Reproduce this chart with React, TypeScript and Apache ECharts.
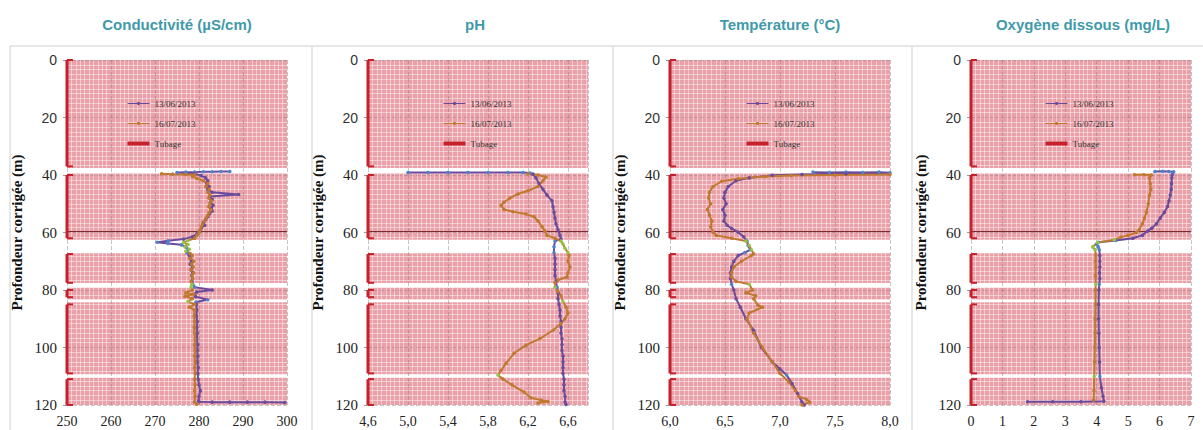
import React, { useEffect, useRef } from "react";
import * as echarts from "echarts";

// ---------- texts ----------
const panelTitles = ["Conductivité (µS/cm)", "pH", "Température (°C)", "Oxygène dissous (mg/L)"];
const seriesNames = ["13/06/2013", "16/07/2013"];
const casingName = "Tubage";
const depthAxisName = "Profondeur corrigée (m)";

// ---------- tick labels ----------
const depthTickLabels = ["0", "20", "40", "60", "80", "100", "120"];
const condTickLabels = ["250", "260", "270", "280", "290", "300"];
const phTickLabels = ["4,6", "5,0", "5,4", "5,8", "6,2", "6,6"];
const tempTickLabels = ["6,0", "6,5", "7,0", "7,5", "8,0"];
const oxyTickLabels = ["0", "1", "2", "3", "4", "5", "6", "7"];

// ---------- axis scales ----------
const axisMin = [250, 4.6, 6, 0];
const axisMax = [300, 6.8, 8, 7];
const axisStep = [10, 0.4, 0.5, 1];
const depthMin = 0;
const depthMax = 120;
const depthStep = 20;

// ---------- casing (tubage) & open zones, depths in m ----------
const casingIntervals = [[0, 37], [40, 62], [67.5, 77.5], [80, 82.5], [85, 109], [111, 120]];
const openZones = [[37.6, 39.5], [62.5, 67.2], [77.6, 79.2], [83.4, 84.3], [109.3, 110.5]];
const referenceDepth = [59.5];

// ---------- series: [value, depth] ----------
const cond1306 = [
  [287, 38.8], [285, 38.8], [283, 38.9], [281, 38.9], [279, 39.0], [277, 39.0], [275, 39.1], [277, 39.3],
  [279, 39.6], [280.5, 40.2], [281.5, 41], [282, 42], [281.8, 43], [282.3, 44], [282, 45], [283, 46],
  [289, 46.8], [282.5, 47.5], [283, 48.5], [282.6, 49.5], [283.2, 50.5], [282.8, 51.5], [283, 52.5],
  [282.4, 53.5], [282, 54.5], [281.5, 55.5], [281, 56.5], [281.3, 57.5], [280.5, 58.5], [280.2, 59.5],
  [279.5, 60.5], [278.5, 61.5], [276.5, 62.3], [273, 62.9], [270.5, 63.4], [273, 63.8], [276, 64.3],
  [277, 65], [277.5, 66], [277.2, 67], [277.8, 68], [278, 69], [278.3, 70], [278, 71], [278.5, 72],
  [278.2, 73], [278.6, 74], [278.3, 75], [278.5, 76], [278.4, 77], [278.6, 78], [279, 79], [283, 80],
  [279.5, 80.7], [279, 81.5], [279.2, 82.3], [282, 83.4], [279.3, 84.2], [279.4, 85], [279.5, 87],
  [279.4, 89], [279.6, 91], [279.5, 93], [279.6, 95], [279.5, 97], [279.7, 99], [279.6, 101], [279.7, 103],
  [279.6, 105], [279.8, 107], [279.7, 109], [279.8, 111], [280, 113], [280.3, 115], [280, 117],
  [279.9, 118.5], [280, 118.9], [283, 119.0], [287, 119.0], [291, 119.0], [295, 119.0], [299.5, 119.1],
];
const cond1607 = [
  [271.5, 39.6], [274, 39.7], [277, 39.8], [279, 39.9], [278.5, 40.5], [279.5, 41.2], [281, 42], [282, 43],
  [281.5, 44], [282.3, 45], [282, 46], [282.5, 47], [282.2, 48], [282.8, 49], [282.5, 50], [282.2, 51],
  [282.7, 52], [282.3, 53], [282, 54], [281.6, 55], [281.2, 56], [280.8, 57], [280.5, 58], [280.3, 59],
  [280, 60], [279.5, 61], [279, 62], [277.5, 62.8], [276.5, 63.5], [277.5, 64.2], [276.8, 65], [277.8, 65.8],
  [277, 66.5], [278, 67.3], [278.5, 68], [278, 69], [278.8, 70], [278.3, 71], [278.7, 72], [278.2, 73],
  [278.8, 74], [278.4, 75], [278.6, 76], [278.2, 77], [278.4, 78], [278.2, 79], [278.5, 80], [277, 81],
  [278.8, 81.5], [276.8, 82.2], [278.5, 83], [277.5, 84], [279, 85], [277.8, 86], [279, 87], [278.9, 89],
  [279, 91], [278.9, 93], [279, 95], [279.1, 97], [279, 99], [279.1, 101], [279, 103], [279.1, 105],
  [279, 107], [279.1, 109], [279, 111], [279.1, 113], [279, 115], [279.1, 117], [279, 119], [279.5, 119.7],
];
const ph1306 = [
  [5.0, 39.1], [5.2, 39.1], [5.4, 39.1], [5.6, 39.1], [5.8, 39.1], [6.0, 39.1], [6.15, 39.15], [6.22, 39.3],
  [6.25, 39.7], [6.28, 41], [6.31, 43], [6.35, 45], [6.39, 47], [6.44, 49], [6.45, 51], [6.46, 53],
  [6.47, 55], [6.48, 57], [6.5, 59], [6.52, 61], [6.53, 62.3], [6.47, 63], [6.46, 65], [6.46, 67],
  [6.47, 69], [6.47, 71], [6.47, 73], [6.47, 75], [6.48, 77], [6.49, 79], [6.5, 81], [6.5, 83], [6.51, 85],
  [6.52, 87], [6.52, 89], [6.53, 91], [6.53, 93], [6.53, 95], [6.54, 97], [6.54, 99], [6.54, 101],
  [6.55, 103], [6.55, 105], [6.55, 107], [6.55, 109], [6.56, 111], [6.56, 113], [6.56, 115], [6.57, 117],
  [6.57, 119], [6.58, 119.8],
];
const ph1607 = [
  [6.2, 39.6], [6.3, 40.0], [6.38, 40.7], [6.35, 42], [6.3, 44], [6.2, 45.5], [6.1, 46.6], [6.02, 48],
  [5.96, 49.5], [5.93, 50.6], [5.96, 52], [6.05, 52.8], [6.18, 53.6], [6.26, 54.5], [6.3, 56], [6.34, 58],
  [6.37, 59.5], [6.39, 61], [6.47, 62], [6.53, 63], [6.55, 64], [6.57, 65.5], [6.6, 67], [6.61, 68],
  [6.6, 70], [6.62, 72], [6.6, 74], [6.59, 75.5], [6.5, 76.5], [6.47, 77.5], [6.47, 79], [6.5, 80.5],
  [6.53, 82], [6.55, 84], [6.58, 86], [6.6, 88], [6.57, 90], [6.53, 91.7], [6.45, 94], [6.32, 96.9],
  [6.18, 99.2], [6.06, 102], [5.98, 105.5], [5.93, 108], [5.9, 109.6], [5.95, 111], [6.04, 113],
  [6.16, 115.5], [6.23, 117.5], [6.33, 118.3], [6.4, 118.8], [6.3, 119.3],
];
const temp1306 = [
  [7.3, 39.0], [7.45, 39.1], [7.6, 39.0], [7.75, 39.1], [7.9, 39.0], [8.0, 39.2], [7.6, 39.6], [7.2, 39.8],
  [6.93, 40.1], [6.72, 41], [6.6, 42], [6.53, 44], [6.5, 46], [6.49, 48], [6.51, 50], [6.48, 52], [6.5, 54],
  [6.49, 56], [6.52, 57.5], [6.56, 58.6], [6.62, 59.9], [6.67, 61.5], [6.7, 63], [6.71, 64.5], [6.73, 66],
  [6.68, 67], [6.62, 68], [6.58, 70], [6.56, 72], [6.55, 74], [6.55, 76], [6.56, 78], [6.58, 80],
  [6.6, 83], [6.64, 86], [6.69, 90], [6.76, 94], [6.83, 100], [6.93, 105], [7.0, 107.5], [7.06, 109.6],
  [7.11, 112.5], [7.16, 116], [7.2, 119], [7.22, 120],
];
const temp1607 = [
  [8.0, 39.8], [7.5, 40.0], [7.1, 40.2], [6.87, 40.5], [6.62, 41.3], [6.47, 42.2], [6.39, 44], [6.36, 46],
  [6.35, 48], [6.37, 50], [6.34, 52], [6.36, 54], [6.38, 56], [6.37, 58], [6.39, 59.9], [6.42, 61],
  [6.56, 62], [6.69, 63], [6.72, 64.5], [6.74, 66], [6.76, 67.4], [6.74, 68], [6.65, 70], [6.58, 72],
  [6.56, 74], [6.56, 75.5], [6.6, 77], [6.72, 78], [6.75, 80], [6.69, 81], [6.78, 82], [6.76, 83],
  [6.8, 85.3], [6.84, 86], [6.72, 88], [6.7, 90], [6.76, 95], [6.84, 100], [6.93, 105], [7.0, 109],
  [7.08, 112], [7.14, 115], [7.17, 117], [7.24, 118], [7.27, 119], [7.2, 120],
];
const oxy1306 = [
  [5.85, 38.8], [6.1, 38.7], [6.3, 38.8], [6.45, 38.9], [6.42, 39.3], [6.4, 40], [6.39, 41], [6.38, 43],
  [6.37, 45], [6.34, 47], [6.3, 49], [6.25, 51], [6.15, 53], [6.02, 55], [5.9, 57], [5.75, 58.5],
  [5.62, 59.5], [5.45, 61], [5.15, 62], [4.6, 62.8], [4.05, 63.4], [4.0, 64], [4.05, 65], [4.08, 66],
  [4.1, 68], [4.1, 70], [4.1, 72], [4.09, 74], [4.1, 76], [4.08, 78], [4.07, 80], [4.06, 85], [4.06, 90],
  [4.07, 95], [4.08, 100], [4.09, 105], [4.1, 110], [4.15, 114], [4.2, 117], [4.23, 118.7], [3.5, 118.9],
  [2.6, 118.9], [1.8, 118.9],
];
const oxy1607 = [
  [5.2, 39.9], [5.5, 39.9], [5.74, 40], [5.68, 41], [5.7, 43], [5.72, 45], [5.68, 47], [5.64, 50],
  [5.58, 53], [5.52, 55], [5.45, 57], [5.35, 59], [5.26, 60], [5.0, 61], [4.77, 61.6], [4.56, 62.5],
  [4.03, 63.5], [3.87, 65], [3.95, 66], [3.97, 68], [3.96, 70], [3.97, 72], [3.96, 75], [3.97, 78],
  [3.96, 80], [3.96, 85], [3.95, 90], [3.95, 95], [3.94, 100], [3.93, 105], [3.92, 110], [3.91, 115],
  [3.9, 118.3],
];

const panelTickLabels = [condTickLabels, phTickLabels, tempTickLabels, oxyTickLabels];
const panelSeries = [
  [cond1306, cond1607],
  [ph1306, ph1607],
  [temp1306, temp1607],
  [oxy1306, oxy1607],
];

// ---------- layout & style ----------
const gridLefts = [67, 368, 670, 971];
const gridWidth = 220;
const gridTop = 60;
const gridHeight = 345;
const legendLefts = [122, 438, 741, 1040];
const titleCenters = [177, 475, 780, 1083];
const separatorsX = [10, 312, 613, 912];
const minorX = [10, 9, 12, 7];
const minorY = 12;

const TEAL = "#3f9aa9";
const PINK = "#eaa0a8";
const RED = "#c5202b";
const PURPLE = "#6c4b9c";
const BLUE = "#4f82c8";
const ORANGE = "#c0792e";
const GREEN = "#97c444";
const SERIF = "'Liberation Serif', 'Times New Roman', serif";
const SANS = "'Liberation Sans', Arial, sans-serif";

function casingZones(): number[][] {
  const zones: number[][] = [];
  let cur = depthMin;
  for (const z of openZones) {
    zones.push([cur, z[0]]);
    cur = z[1];
  }
  zones.push([cur, depthMax]);
  return zones;
}

function buildOption() {
  const pinkZones = casingZones();
  const grid: any[] = [];
  const xAxis: any[] = [];
  const yAxis: any[] = [];
  const series: any[] = [];
  const legend: any[] = [];

  for (let i = 0; i < 4; i++) {
    grid.push({ left: gridLefts[i], top: gridTop, width: gridWidth, height: gridHeight, containLabel: false });
    const min = axisMin[i];
    const step = axisStep[i];
    const labels = panelTickLabels[i];
    xAxis.push({
      type: "value",
      gridIndex: i,
      min,
      max: axisMax[i],
      interval: step,
      axisLine: { show: false },
      axisTick: { show: false },
      axisLabel: {
        margin: 9,
        color: "#222",
        fontFamily: SERIF,
        fontSize: 14,
        formatter: (v: number) => {
          const k = Math.round((v - min) / step);
          if (Math.abs(min + k * step - v) > 1e-6) return "";
          return labels[k] ?? "";
        },
      },
      splitLine: { show: true, lineStyle: { color: "#8c7c80", type: "dashed", width: 1, opacity: 0.45 } },
      minorTick: { show: false, splitNumber: minorX[i] },
      minorSplitLine: { show: true, lineStyle: { color: "#ffffff", width: 1, opacity: 0.45 } },
    });
    yAxis.push({
      type: "value",
      gridIndex: i,
      inverse: true,
      min: depthMin,
      max: depthMax,
      interval: depthStep,
      name: depthAxisName,
      nameLocation: "middle",
      nameGap: 43,
      nameTextStyle: { fontFamily: SERIF, fontWeight: "bold", fontSize: 15, color: "#111" },
      axisLine: { show: false },
      axisTick: { show: true, length: 4, lineStyle: { color: "#999" } },
      axisLabel: {
        margin: 10,
        formatter: (v: number) => {
          const k = Math.round((v - depthMin) / depthStep);
          const t = depthTickLabels[k] ?? "";
          return k < 2 ? `{s|${t}}` : `{r|${t}}`;
        },
        rich: {
          s: { fontFamily: SANS, fontSize: 14, color: "#333" },
          r: { fontFamily: SERIF, fontSize: 15, color: "#222" },
        },
      },
      splitLine: { show: true, lineStyle: { color: "#8c7c80", type: "dashed", width: 1, opacity: 0.45 } },
      minorTick: { show: false, splitNumber: minorY },
      minorSplitLine: { show: true, lineStyle: { color: "#ffffff", width: 1, opacity: 0.45 } },
    });

    // pink casing background
    series.push({
      type: "custom",
      xAxisIndex: i,
      yAxisIndex: i,
      z: -1,
      silent: true,
      data: pinkZones.map((z) => [min, z[0], z[1]]),
      encode: { x: 0, y: [1, 2] },
      renderItem: (params: any, api: any) => {
        const cs = params.coordSys;
        const y0 = api.coord([api.value(0), api.value(1)])[1];
        const y1 = api.coord([api.value(0), api.value(2)])[1];
        return {
          type: "rect",
          shape: { x: cs.x, y: y0, width: cs.width, height: y1 - y0 },
          style: { fill: PINK },
        };
      },
    });
    // casing brackets on depth axis
    const casingData: any[] = [];
    casingIntervals.forEach((c) => {
      casingData.push([min, c[0]], [min, c[1]], ["-", "-"]);
    });
    series.push({
      name: casingName,
      type: "line",
      xAxisIndex: i,
      yAxisIndex: i,
      z: 4,
      clip: false,
      data: casingData,
      symbol: "rect",
      symbolSize: [6, 2],
      symbolOffset: [3, 0],
      showSymbol: true,
      lineStyle: { color: RED, width: 3 },
      itemStyle: { color: RED },
      markLine: {
        silent: true,
        z: 1,
        symbol: "none",
        label: { show: false },
        lineStyle: { color: "#7a2b32", width: 1, type: "solid" },
        data: referenceDepth.map((d) => ({ yAxis: d })),
      },
    });
    const colors = [PURPLE, ORANGE];
    panelSeries[i].forEach((arr, k) => {
      series.push({
        name: seriesNames[k],
        type: "line",
        xAxisIndex: i,
        yAxisIndex: i,
        z: 3,
        data: arr,
        symbol: "circle",
        symbolSize: 3.5,
        showSymbol: true,
        lineStyle: { color: colors[k], width: 2 },
        itemStyle: { color: colors[k] },
      });
    });

    legend.push({
      orient: "vertical",
      left: legendLefts[i],
      top: 93,
      itemWidth: 22,
      itemHeight: 4,
      itemGap: 9,
      itemTextGap: 2,
      selectedMode: false,
      lineStyle: { width: 1 },
      textStyle: { fontFamily: SERIF, fontSize: 9, color: "#333", lineHeight: 11 },
      data: [
        { name: seriesNames[0] },
        { name: seriesNames[1] },
        { name: casingName, icon: "path://M0,0H22V4H0Z" },
      ],
    });
  }

  const idx1306 = [2, 6, 10, 14];
  const idx1607 = [3, 7, 11, 15];
  const visualMap = [
    {
      type: "piecewise",
      show: false,
      dimension: 1,
      seriesIndex: idx1306,
      pieces: openZones.map((z) => ({ gte: z[0], lte: z[1], color: BLUE })),
      outOfRange: { color: PURPLE },
    },
    {
      type: "piecewise",
      show: false,
      dimension: 1,
      seriesIndex: idx1607,
      pieces: openZones.map((z) => ({ gte: z[0], lte: z[1], color: GREEN })),
      outOfRange: { color: ORANGE },
    },
  ];

  const graphic: any[] = [
    { type: "line", silent: true, shape: { x1: separatorsX[0], y1: 46, x2: 1203, y2: 46 }, style: { stroke: "#cfcfcf", lineWidth: 1 } },
    ...separatorsX.map((x) => ({
      type: "line",
      silent: true,
      shape: { x1: x, y1: 46, x2: x, y2: 430 },
      style: { stroke: "#cfcfcf", lineWidth: 1 },
    })),
    ...panelTitles.map((t, i) => ({
      type: "text",
      silent: true,
      x: titleCenters[i],
      y: 24,
      style: {
        text: t,
        fill: TEAL,
        fontFamily: SANS,
        fontWeight: "bold",
        fontSize: 15,
        align: "center",
        verticalAlign: "middle",
      },
    })),
  ];

  return {
    animation: false,
    backgroundColor: "#ffffff",
    grid,
    xAxis,
    yAxis,
    series,
    legend,
    visualMap,
    graphic,
  };
}

export default function App() {
  const ref = useRef<HTMLDivElement>(null);
  useEffect(() => {
    if (!ref.current) return;
    const chart = echarts.init(ref.current, undefined, { renderer: "svg" });
    chart.setOption(buildOption() as any);
    return () => chart.dispose();
  }, []);
  return (
    <div
      ref={ref}
      style={{ position: "fixed", left: 0, top: 0, width: 1203, height: 430, background: "#fff" }}
    />
  );
}
